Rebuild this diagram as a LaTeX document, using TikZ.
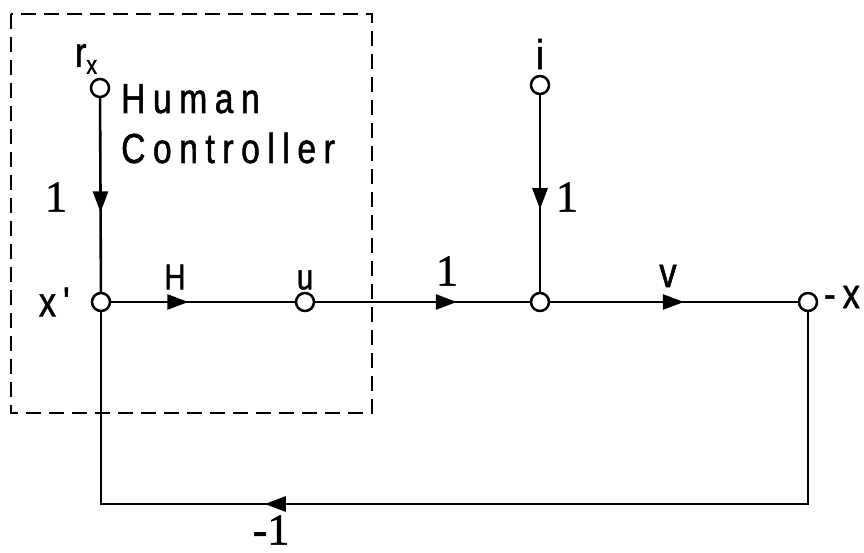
\documentclass[tikz,border=0pt]{standalone}
\usepackage{fontspec}
\setmainfont{Liberation Sans}[FakeStretch=0.82,FakeBold=1.2]
\newfontfamily\onefam{Liberation Serif}[FakeBold=1.2]
\newfontfamily\spacedfam{Liberation Sans}[FakeStretch=0.8,FakeBold=1.2,LetterSpace=18]
\usetikzlibrary{decorations.markings,arrows.meta}
\begin{document}
\begin{tikzpicture}[x=1pt,y=-1pt,
  conn/.style={line width=2.6pt},
  snode/.style={circle,draw,line width=2.5pt,minimum size=18pt,inner sep=0pt,fill=white},
  lab/.style={font=\fontsize{36}{38}\selectfont,inner sep=0pt},
  biglab/.style={font=\fontsize{42}{44}\selectfont,inner sep=0pt},
  one/.style={font=\onefam\fontsize{44}{44}\selectfont,inner sep=0pt},
  hctext/.style={font=\spacedfam\fontsize{42}{44}\selectfont,anchor=base west,inner sep=0pt},
  boxline/.style={line width=1.7pt,dash pattern=on 15pt off 8pt},
  amark/.style={postaction={decorate,decoration={markings,mark=at position #1 with {\arrow{Triangle[length=21pt,width=15pt]}}}}}
]
\useasboundingbox (0,0) rectangle (864,553);

% dashed human-controller box
\draw[boxline] (11,14) rectangle (372,413);

% nodes
\node[snode] (rx) at (100,88) {};
\node[snode] (xp) at (101,302) {};
\node[snode] (u) at (305,302) {};
\node[snode] (m) at (540,302) {};
\node[snode] (i) at (540,85) {};
\node[snode] (xn) at (808,302) {};
\coordinate (c1) at (808,504);
\coordinate (c2) at (101,504);

% branches
\draw[conn,amark=0.59] (rx) -- (xp);
\draw[conn,amark=0.42] (xp) -- (u);
\draw[conn,amark=0.66] (u) -- (m);
\draw[conn,amark=0.58] (i) -- (m);
\draw[conn,amark=0.54] (m) -- (xn);
\draw[conn,amark=735pt] (xn) -- (c1) -- (c2) -- (xp);

% labels
\node[biglab] (lrx) at (86,59) {r\raisebox{-7pt}{\fontsize{26}{26}\selectfont x}};
\node[hctext] (hum) at (121,113) {Human};
\node[hctext] (con) at (121,163) {Controller};
\node[one] (l1) at (56,197) {1};
\node[biglab] (lxp) at (55,302) {x\,\textquotesingle};
\node[lab] (lH) at (175,277) {H};
\node[lab] (lu) at (305,280) {u};
\node[one] (l2) at (447,271) {1};
\node[biglab] (li) at (540,54) {i};
\node[one] (l3) at (567,197) {1};
\node[biglab] (lv) at (668,276) {v};
\node[biglab] (lxn) at (842,297) {-\,x};
\node[one] (lm1) at (271,530) {-1};
\end{tikzpicture}
\end{document}
